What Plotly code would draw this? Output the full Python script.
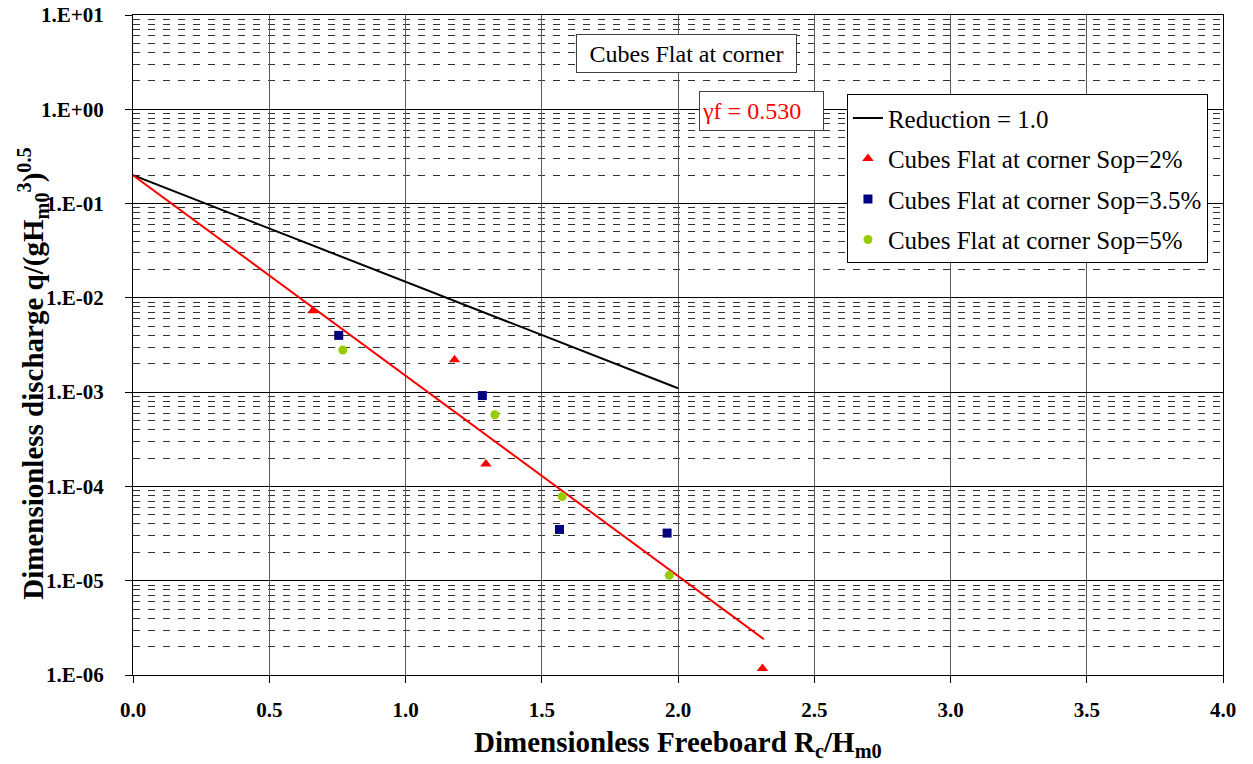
import plotly.graph_objects as go

# Measured overtopping: dimensionless freeboard Rc/Hm0 vs q/sqrt(g Hm0^3)
sop2_x = [0.66, 1.18, 1.295, 2.31]
sop2_q = [7.3e-3, 2.2e-3, 1.73e-4, 1.17e-6]

sop35_x = [0.755, 1.282, 1.565, 1.96]
sop35_q = [4.0e-3, 9.2e-4, 3.5e-5, 3.2e-5]

sop5_x = [0.77, 1.328, 1.575, 1.968]
sop5_q = [2.8e-3, 5.75e-4, 7.8e-5, 1.14e-5]

# Reference lines (straight on the log scale): reduction 1.0 and fitted gamma_f
ref_x = [0.0, 2.0]
ref_q = [0.2, 1.1e-3]
fit_x = [0.0, 2.315]
fit_q = [0.2, 2.4e-6]

gamma_f = 0.530

y_tickvals = [1e-6, 1e-5, 1e-4, 1e-3, 1e-2, 1e-1, 1e0, 1e1]
y_ticktext = ["1.E-06", "1.E-05", "1.E-04", "1.E-03", "1.E-02", "1.E-01", "1.E+00", "1.E+01"]

FONT = "Times New Roman, Liberation Serif, serif"

fig = go.Figure()

fig.add_trace(go.Scatter(
    x=ref_x, y=ref_q, mode="lines", name="Reduction = 1.0",
    line=dict(color="black", width=2), legendgroup="a",
))
fig.add_trace(go.Scatter(
    x=fit_x, y=fit_q, mode="lines", showlegend=False,
    line=dict(color="#FF0000", width=2), hoverinfo="skip",
))
fig.add_trace(go.Scatter(
    x=sop2_x, y=sop2_q, mode="markers", name="Cubes Flat at corner Sop=2%",
    marker=dict(symbol="triangle-up", color="#FF0000", size=10), legendgroup="b",
))
fig.add_trace(go.Scatter(
    x=sop35_x, y=sop35_q, mode="markers", name="Cubes Flat at corner Sop=3.5%",
    marker=dict(symbol="square", color="#000080", size=9), legendgroup="c",
))
fig.add_trace(go.Scatter(
    x=sop5_x, y=sop5_q, mode="markers", name="Cubes Flat at corner Sop=5%",
    marker=dict(symbol="circle", color="#99CC00", size=9), legendgroup="d",
))

fig.update_xaxes(
    range=[0, 4], dtick=0.5, tick0=0, tickformat=".1f", automargin=False,
    showline=True, linecolor="black", linewidth=1, mirror=True,
    ticks="outside", ticklen=7, tickcolor="black",
    showgrid=True, gridcolor="#5a5a5a", gridwidth=1, zeroline=False,
    tickfont=dict(family=FONT, size=21, color="black", weight="bold"),
    ticklabelstandoff=9,
)
fig.update_yaxes(
    type="log", range=[-6, 1], tickvals=y_tickvals, ticktext=y_ticktext,
    automargin=False,
    showline=True, linecolor="black", linewidth=1, mirror=True,
    ticks="outside", ticklen=7, tickcolor="black",
    showgrid=True, gridcolor="black", gridwidth=1, zeroline=False,
    minor=dict(dtick="D1", showgrid=True, gridcolor="#333333", gridwidth=1,
               griddash="7px,8px", ticks=""),
    tickfont=dict(family=FONT, size=21, color="black", weight="bold"),
    ticklabelstandoff=17,
)

fig.add_annotation(
    text="Dimensionless Freeboard R<sub>c</sub>/H<sub>m0</sub>",
    xref="paper", yref="paper", x=0.5, y=-0.104, xanchor="center", yanchor="middle",
    showarrow=False, font=dict(family=FONT, size=29, color="black", weight="bold"),
)
fig.add_annotation(
    text="Dimensionless discharge q/(gH<sub>m0</sub><sup>3</sup>)<sup>0.5</sup>",
    xref="paper", yref="paper", x=-0.092, y=0.456, xanchor="center", yanchor="middle",
    textangle=-90, showarrow=False,
    font=dict(family=FONT, size=29, color="black", weight="bold"),
)
fig.add_annotation(
    text="Cubes Flat at corner", x=2.03, y=0.594, xref="x", yref="y",
    showarrow=False, font=dict(family=FONT, size=24, color="black"),
    bgcolor="white", bordercolor="#404040", borderwidth=1, borderpad=2,
    width=215, height=33,
)
fig.add_annotation(
    text=f"γf = {gamma_f:.3f}", x=2.305, y=-0.014, xref="x", yref="y",
    showarrow=False, font=dict(family=FONT, size=24, color="#FF0000"),
    bgcolor="white", bordercolor="#404040", borderwidth=1, borderpad=2,
    width=119, height=34, align="left",
)

fig.update_layout(
    width=1253, height=764,
    margin=dict(l=133, r=30, t=15, b=89),
    paper_bgcolor="white", plot_bgcolor="white",
    font=dict(family=FONT, color="black"),
    showlegend=True,
    legend=dict(
        x=0.655, y=0.88, xanchor="left", yanchor="top",
        bgcolor="white", bordercolor="black", borderwidth=1,
        font=dict(family=FONT, size=25, color="black"),
        traceorder="grouped", tracegroupgap=5,
    ),
)

fig.write_html("out.html")
